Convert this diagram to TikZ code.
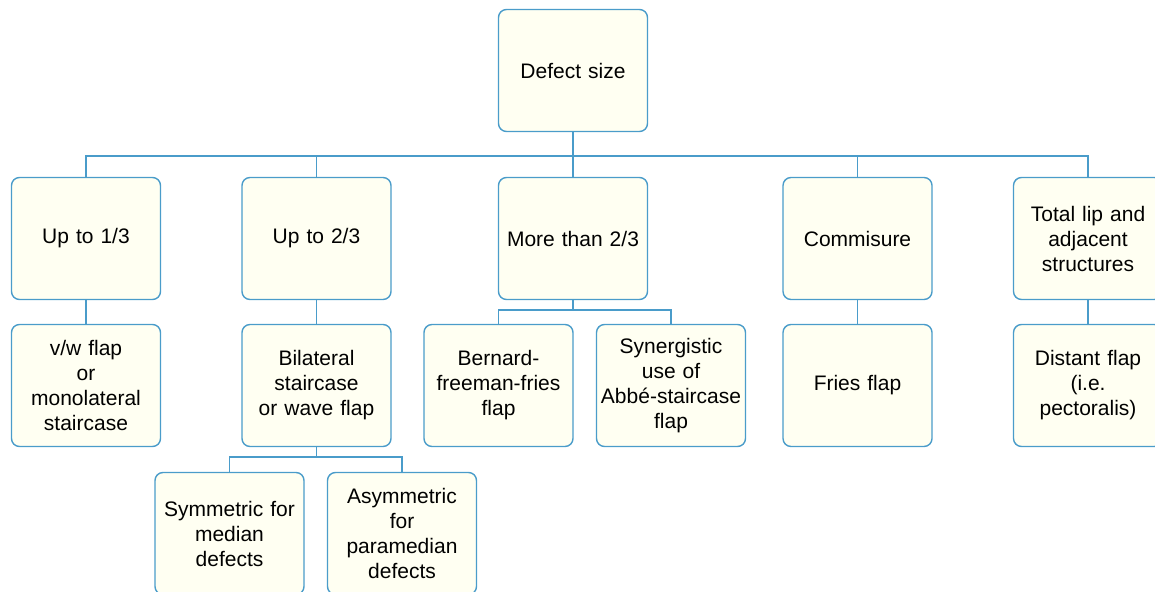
\documentclass[tikz,border=0pt]{standalone}
\usepackage{fontspec}
\setmainfont{Liberation Sans}
\definecolor{bordblue}{RGB}{74,156,202}
\definecolor{boxfill}{RGB}{255,255,242}
\begin{document}
\begin{tikzpicture}[x=1pt,y=-1pt,
  box/.style={draw=bordblue, fill=boxfill, line width=1.4pt, rounded corners=8pt,
    minimum width=149pt, minimum height=122pt, text width=146pt, align=center,
    inner sep=0pt, font=\fontsize{21}{25}\selectfont},
  conn/.style={draw=bordblue, line width=1.2pt}]
\useasboundingbox (0,0) rectangle (1155,591);
\clip (0,0) rectangle (1155,591);
% top
\node[box] (top) at (573,70.5) {Defect size};
% level 2
\node[box] (a1) at (86,238.5) {Up to 1/3};
\node[box] (a2) at (316.5,238.5) {Up to 2/3};
\node[box] (a3) at (573,238.5) {More than 2/3};
\node[box] (a4) at (857.5,238.5) {Commisure};
\node[box] (a5) at (1088,238.5) {Total lip and\\adjacent\\structures};
% level 3
\node[box] (b1) at (86,385.5) {v/w flap\\or\\monolateral\\staircase};
\node[box] (b2) at (316.5,385.5) {Bilateral\\staircase\\or wave flap};
\node[box] (b3) at (498.5,385.5) {Bernard-\\freeman-fries\\flap};
\node[box] (b4) at (671,385.5) {Synergistic\\use of\\Abbé-staircase\\flap};
\node[box] (b5) at (857.5,385.5) {Fries flap};
\node[box] (b6) at (1088,385.5) {Distant flap\\(i.e.\\pectoralis)};
% level 4
\node[box] (c1) at (229.5,533.5) {Symmetric for\\median\\defects};
\node[box] (c2) at (402,533.5) {Asymmetric\\for\\paramedian\\defects};
% connectors
\coordinate (bus) at (573,156);
\draw[conn] (top.south) -- (bus);
\foreach \n in {a1,a2,a3,a4,a5} \draw[conn] (bus) -| (\n.north);
\draw[conn] (a1.south) -- (b1.north);
\draw[conn] (a2.south) -- (b2.north);
\draw[conn] (a4.south) -- (b5.north);
\draw[conn] (a5.south) -- (b6.north);
\coordinate (j3) at (573,310);
\draw[conn] (a3.south) -- (j3);
\draw[conn] (j3) -| (b3.north);
\draw[conn] (j3) -| (b4.north);
\coordinate (j2) at (316.5,457);
\draw[conn] (b2.south) -- (j2);
\draw[conn] (j2) -| (c1.north);
\draw[conn] (j2) -| (c2.north);
\end{tikzpicture}
\end{document}
